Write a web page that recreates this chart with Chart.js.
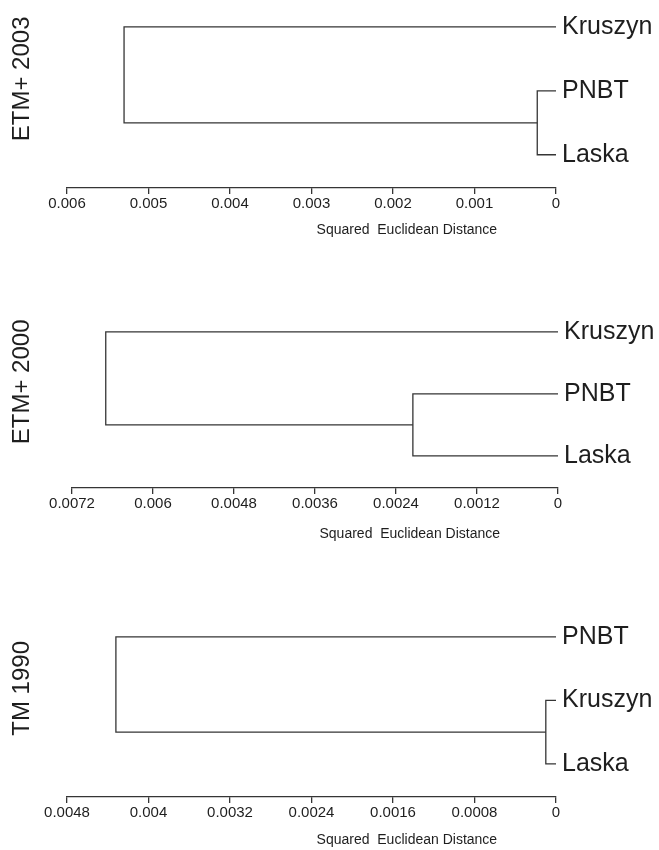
<!DOCTYPE html>
<html>
<head>
<meta charset="utf-8">
<script src="https://cdn.jsdelivr.net/npm/chart.js@4.4.0/dist/chart.umd.min.js"></script>
<style>
  html, body { margin: 0; padding: 0; background: #fff; overflow: hidden; }
  #page { position: relative; width: 659px; height: 850px; overflow: hidden; }
  .panel { position: absolute; left: 0; width: 659px; }
  canvas { display: block; }
</style>
</head>
<body>
<div id="page">
  <div class="panel" style="top:-29px"><canvas id="c2003" width="659" height="273"></canvas></div>
  <div class="panel" style="top:277px"><canvas id="c2000" width="659" height="267"></canvas></div>
  <div class="panel" style="top:581px"><canvas id="c1990" width="659" height="272"></canvas></div>
</div>
<script>
// leaves listed top to bottom; merges = [join of leaf 2 and 3, join of leaf 1 with that pair]
var leaves2003 = ['Kruszyn', 'PNBT', 'Laska'];
var merges2003 = [0.00023, 0.0053];
var ticks2003 = ['0.006', '0.005', '0.004', '0.003', '0.002', '0.001', '0'];

var leaves2000 = ['Kruszyn', 'PNBT', 'Laska'];
var merges2000 = [0.00215, 0.0067];
var ticks2000 = ['0.0072', '0.006', '0.0048', '0.0036', '0.0024', '0.0012', '0'];

var leaves1990 = ['PNBT', 'Kruszyn', 'Laska'];
var merges1990 = [0.0001, 0.00432];
var ticks1990 = ['0.0048', '0.004', '0.0032', '0.0024', '0.0016', '0.0008', '0'];

var axisTitle = 'Squared  Euclidean Distance';
var font = '"Liberation Sans", Arial, sans-serif';
var ink = '#1e1e1e';
var lineColor = '#353535';

// titles: x axis title sits right of centre, side title is rotated on the left
var panelTitles = {
    id: 'panelTitles',
    afterDraw: function (chart, args, opts) {
        var ctx = chart.ctx;
        var area = chart.chartArea;
        var y = chart.scales.y;
        ctx.save();
        ctx.fillStyle = ink;
        ctx.textAlign = 'center';
        ctx.textBaseline = 'middle';
        ctx.font = '14px ' + font;
        ctx.fillText(axisTitle, area.left + 0.695 * (area.right - area.left), area.bottom + opts.gap);
        ctx.translate(22.5, y.getPixelForValue(1) - 12);
        ctx.rotate(-Math.PI / 2);
        ctx.font = '24px ' + font;
        ctx.fillText(opts.side, 0, 0);
        ctx.restore();
    }
};

function dendrogram(id, leaves, merges, tickLabels, side, leftW, rightW, gap) {
    var low = merges[0], high = merges[1];
    var lineStyle = {
        showLine: true, pointRadius: 0, borderColor: lineColor,
        borderWidth: 1.3, fill: false, tension: 0
    };
    var pair = Object.assign({
        data: [{x: 0, y: 1}, {x: low, y: 1}, {x: low, y: 2}, {x: 0, y: 2}]
    }, lineStyle);
    var top = Object.assign({
        data: [{x: low, y: 1.5}, {x: high, y: 1.5}, {x: high, y: 0}, {x: 0, y: 0}]
    }, lineStyle);

    new Chart(document.getElementById(id), {
        type: 'scatter',
        data: { datasets: [pair, top] },
        plugins: [panelTitles],
        options: {
            responsive: false,
            animation: false,
            events: [],
            layout: { padding: { left: leftW, top: 24, right: 0, bottom: 0 } },
            plugins: {
                legend: { display: false },
                tooltip: { enabled: false },
                panelTitles: { side: side, gap: gap }
            },
            scales: {
                x: {
                    type: 'linear',
                    reverse: true,
                    min: 0,
                    max: parseFloat(tickLabels[0]),
                    afterBuildTicks: function (s) {
                        s.ticks = tickLabels.map(function (t) { return {value: parseFloat(t)}; });
                    },
                    afterFit: function (s) { s.height = 56; },
                    ticks: {
                        autoSkip: false,
                        maxRotation: 0,
                        padding: 1,
                        color: ink,
                        font: { family: font, size: 15 },
                        callback: function (v) {
                            return tickLabels.find(function (t) { return parseFloat(t) === v; });
                        }
                    },
                    grid: {
                        display: true, drawOnChartArea: false, drawTicks: true,
                        tickLength: 6, color: lineColor, lineWidth: 1.3
                    },
                    border: { display: true, color: lineColor, width: 1.3 }
                },
                y: {
                    type: 'linear',
                    position: 'right',
                    reverse: true,
                    min: -0.5,
                    max: 2.52,
                    afterBuildTicks: function (s) {
                        s.ticks = leaves.map(function (n, i) { return {value: i}; });
                    },
                    afterFit: function (s) { s.width = rightW; },
                    ticks: {
                        autoSkip: false,
                        padding: 6,
                        color: ink,
                        font: { family: font, size: 25 },
                        callback: function (v) { return leaves[v]; }
                    },
                    grid: { display: false, drawTicks: false },
                    border: { display: false }
                }
            }
        }
    });
}

dendrogram('c2003', leaves2003, merges2003, ticks2003, 'ETM+ 2003', 67, 103, 42);
dendrogram('c2000', leaves2000, merges2000, ticks2000, 'ETM+ 2000', 72, 101, 46);
dendrogram('c1990', leaves1990, merges1990, ticks1990, 'TM 1990', 67, 103, 43);
</script>
</body>
</html>
